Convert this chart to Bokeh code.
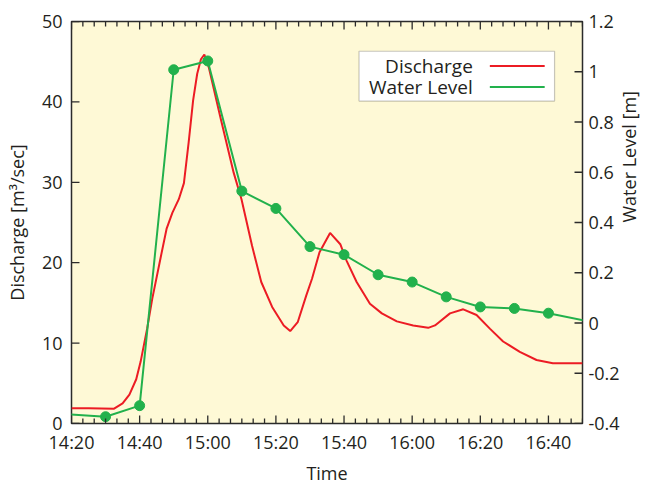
import math
from bokeh.plotting import figure
from bokeh.models import (Range1d, LinearAxis, FixedTicker, BoxAnnotation, Label, Arrow,
                          ColumnDataSource)
from bokeh.embed import file_html
from bokeh.resources import INLINE

# ---------------- data ----------------
level_times = ["14:10", "14:30", "14:40", "14:50", "15:00", "15:10", "15:20", "15:30",
               "15:40", "15:50", "16:00", "16:10", "16:20", "16:30", "16:40", "17:00"]
level_m = [-0.355, -0.373, -0.329, 1.008, 1.043, 0.525, 0.456, 0.304,
           0.272, 0.192, 0.163, 0.104, 0.064, 0.058, 0.039, -0.017]

discharge_times = ["14:20:00", "14:25:00", "14:32:30", "14:35:00", "14:37:00", "14:39:00",
                   "14:40:18", "14:42:12", "14:43:42", "14:46:06", "14:47:54", "14:49:36",
                   "14:51:30", "14:53:00", "14:54:24", "14:55:42", "14:56:54", "14:58:00",
                   "14:59:00", "15:00:18", "15:03:42", "15:07:36", "15:09:54", "15:13:00",
                   "15:15:42", "15:18:54", "15:22:18", "15:24:12", "15:26:24", "15:28:54",
                   "15:30:36", "15:32:48", "15:35:54", "15:38:54", "15:40:48", "15:43:42",
                   "15:47:36", "15:51:06", "15:55:30", "16:00:18", "16:04:42", "16:06:42",
                   "16:11:06", "16:15:00", "16:18:54", "16:22:48", "16:26:42", "16:31:36",
                   "16:36:30", "16:41:18", "16:50:00"]
discharge_m3s = [1.9, 1.9, 1.85, 2.5, 3.6, 5.5,
                 7.7, 11.8, 15.5, 20.5, 24.2, 26.2,
                 27.9, 29.9, 35.0, 40.2, 43.5, 45.3,
                 45.9, 44.3, 38.1, 31.2, 27.9, 22.1,
                 17.6, 14.5, 12.2, 11.5, 12.6, 15.9,
                 18.0, 21.3, 23.7, 22.3, 20.2, 17.6,
                 14.9, 13.7, 12.7, 12.2, 11.9, 12.2,
                 13.7, 14.2, 13.5, 11.8, 10.2, 8.9,
                 7.9, 7.5, 7.5]

time_tick_labels = ["14:20", "14:40", "15:00", "15:20", "15:40", "16:00", "16:20", "16:40"]
discharge_ticks = [0, 10, 20, 30, 40, 50]
level_tick_labels = ["-0.4", "-0.2", "0", "0.2", "0.4", "0.6", "0.8", "1", "1.2"]

series_names = ["Discharge", "Water Level"]


def to_min(s):
    parts = [int(v) for v in s.split(":")]
    while len(parts) < 3:
        parts.append(0)
    return parts[0] * 60 + parts[1] + parts[2] / 60.0


# ---------------- styling ----------------
FONT = "Open Sans"
TXT = "#231f20"
RED = "#ec1c24"
GREEN = "#22b14c"
BG = "#fef9d6"
FRAME = "#2b2b2b"
TICK = "#2b2b2b"

W, H = 655, 487
BL, BR, BT, BB = 71, 72, 21, 61
FW, FH = W - BL - BR, H - BT - BB

x_ticks = [to_min(s) for s in time_tick_labels]
x_start = x_ticks[0]
x_end = to_min("16:50")
minor_step = 20.0 / 6.0
x_minor = [x_start + k * minor_step for k in range(int(round((x_end - x_start) / minor_step)) + 1)]
y_lo, y_hi = 0, 50
wl_lo, wl_hi = -0.4, 1.2

p = figure(width=W, height=H, output_backend="svg", toolbar_location=None,
           x_range=Range1d(x_start, x_end), y_range=Range1d(y_lo, y_hi),
           min_border_left=BL, min_border_right=BR, min_border_top=BT, min_border_bottom=BB,
           background_fill_color=BG, border_fill_color="white",
           outline_line_color=FRAME, outline_line_width=1.5)
p.grid.visible = False
p.extra_y_ranges = {"wl": Range1d(wl_lo, wl_hi)}

# ---- series ----
dsrc = ColumnDataSource(dict(t=[to_min(s) for s in discharge_times], q=discharge_m3s))
wsrc = ColumnDataSource(dict(t=[to_min(s) for s in level_times], h=level_m))
p.line("t", "q", source=dsrc, line_color=RED, line_width=2)
p.line("t", "h", source=wsrc, line_color=GREEN, line_width=2, y_range_name="wl")
p.scatter("t", "h", source=wsrc, size=10, fill_color=GREEN, line_color=GREEN,
          y_range_name="wl")


def style_axis(ax, size="18px"):
    ax.axis_line_color = None
    ax.major_tick_line_color = None
    ax.minor_tick_line_color = None
    ax.major_tick_in = 0
    ax.major_tick_out = 0
    ax.minor_tick_in = 0
    ax.minor_tick_out = 0
    ax.major_label_text_font = FONT
    ax.major_label_text_font_size = size
    ax.major_label_text_color = TXT
    ax.axis_label_text_font = FONT
    ax.axis_label_text_font_size = "18px"
    ax.axis_label_text_color = TXT
    ax.axis_label_text_font_style = "normal"


# bottom axis
xa = p.xaxis[0]
xa.ticker = FixedTicker(ticks=x_ticks, minor_ticks=x_minor)
xa.major_label_overrides = {t: s for t, s in zip(x_ticks, time_tick_labels)}
xa.axis_label = "Time"
style_axis(xa)
xa.major_label_standoff = 6
xa.axis_label_standoff = 4

# left axis
ya = p.yaxis[0]
ya.ticker = FixedTicker(ticks=discharge_ticks, minor_ticks=[])
ya.axis_label = "Discharge [m³/sec]"
style_axis(ya)
ya.major_label_standoff = 9
ya.axis_label_standoff = 10

# right axis
level_ticks = [float(s) for s in level_tick_labels]
ra = LinearAxis(y_range_name="wl", ticker=FixedTicker(ticks=level_ticks, minor_ticks=[]),
                axis_label="Water Level [m]")
style_axis(ra)
ra.major_label_overrides = {t: s for t, s in zip(level_ticks, level_tick_labels)}
ra.major_label_standoff = 6
ra.axis_label_standoff = 6
ra.axis_label_orientation = math.pi / 2
p.add_layout(ra, "right")

# ---- inward tick marks drawn as short segments from the frame edge ----
dx = (x_end - x_start) / FW
dy = (y_hi - y_lo) / FH
MAJ, MIN = 8, 5
TW = 1.3
minor_x = [t for t in x_minor if all(abs(t - m) > 1e-6 for m in x_ticks)]

tick_src = {"x0": [], "y0": [], "x1": [], "y1": []}
for xs, L in ((x_ticks, MAJ), (minor_x, MIN)):
    for t in xs:
        for base, sgn in ((y_lo, 1), (y_hi, -1)):
            tick_src["x0"].append(t)
            tick_src["x1"].append(t)
            tick_src["y0"].append(base)
            tick_src["y1"].append(base + sgn * L * dy)
for d in discharge_ticks:
    tick_src["x0"].append(x_start)
    tick_src["x1"].append(x_start + MAJ * dx)
    tick_src["y0"].append(d)
    tick_src["y1"].append(d)
p.segment("x0", "y0", "x1", "y1", source=ColumnDataSource(tick_src),
          line_color=TICK, line_width=TW)
rt_src = ColumnDataSource(dict(x0=[x_end] * len(level_ticks), y0=level_ticks,
                               x1=[x_end - MAJ * dx] * len(level_ticks), y1=level_ticks))
p.segment("x0", "y0", "x1", "y1", source=rt_src, line_color=TICK, line_width=TW,
          y_range_name="wl")

# ---- gnuplot-style key (text on the left, sample on the right) ----
key_left, key_right = x_start + 84.4, x_start + 141.8
key_top, key_bottom = 46.3, 40.1
row_y = [44.45, 41.85]
txt_x = x_start + 117.8
smp_x0, smp_x1, smp_mid = x_start + 122.8, x_start + 138.9, x_start + 131.0

p.add_layout(BoxAnnotation(left=key_left, right=key_right, top=key_top, bottom=key_bottom,
                           fill_color="white", fill_alpha=1.0, line_color="#444444",
                           line_width=1.2, level="overlay"))
for name, yy in zip(series_names, row_y):
    p.add_layout(Label(x=txt_x, y=yy, text=name, text_align="right", text_baseline="middle",
                       text_font=FONT, text_font_size="19px", text_color=TXT, level="overlay"))
p.add_layout(Arrow(x_start=smp_x0, y_start=row_y[0], x_end=smp_x1, y_end=row_y[0], end=None,
                   line_color=RED, line_width=2, level="overlay"))
p.add_layout(Arrow(x_start=smp_x0, y_start=row_y[1], x_end=smp_x1, y_end=row_y[1], end=None,
                   line_color=GREEN, line_width=2, level="overlay"))
key_marker = p.scatter([smp_mid], [row_y[1]], size=10, fill_color=GREEN, line_color=GREEN)
key_marker.level = "overlay"

open("out.html", "w").write(file_html(p, INLINE))
